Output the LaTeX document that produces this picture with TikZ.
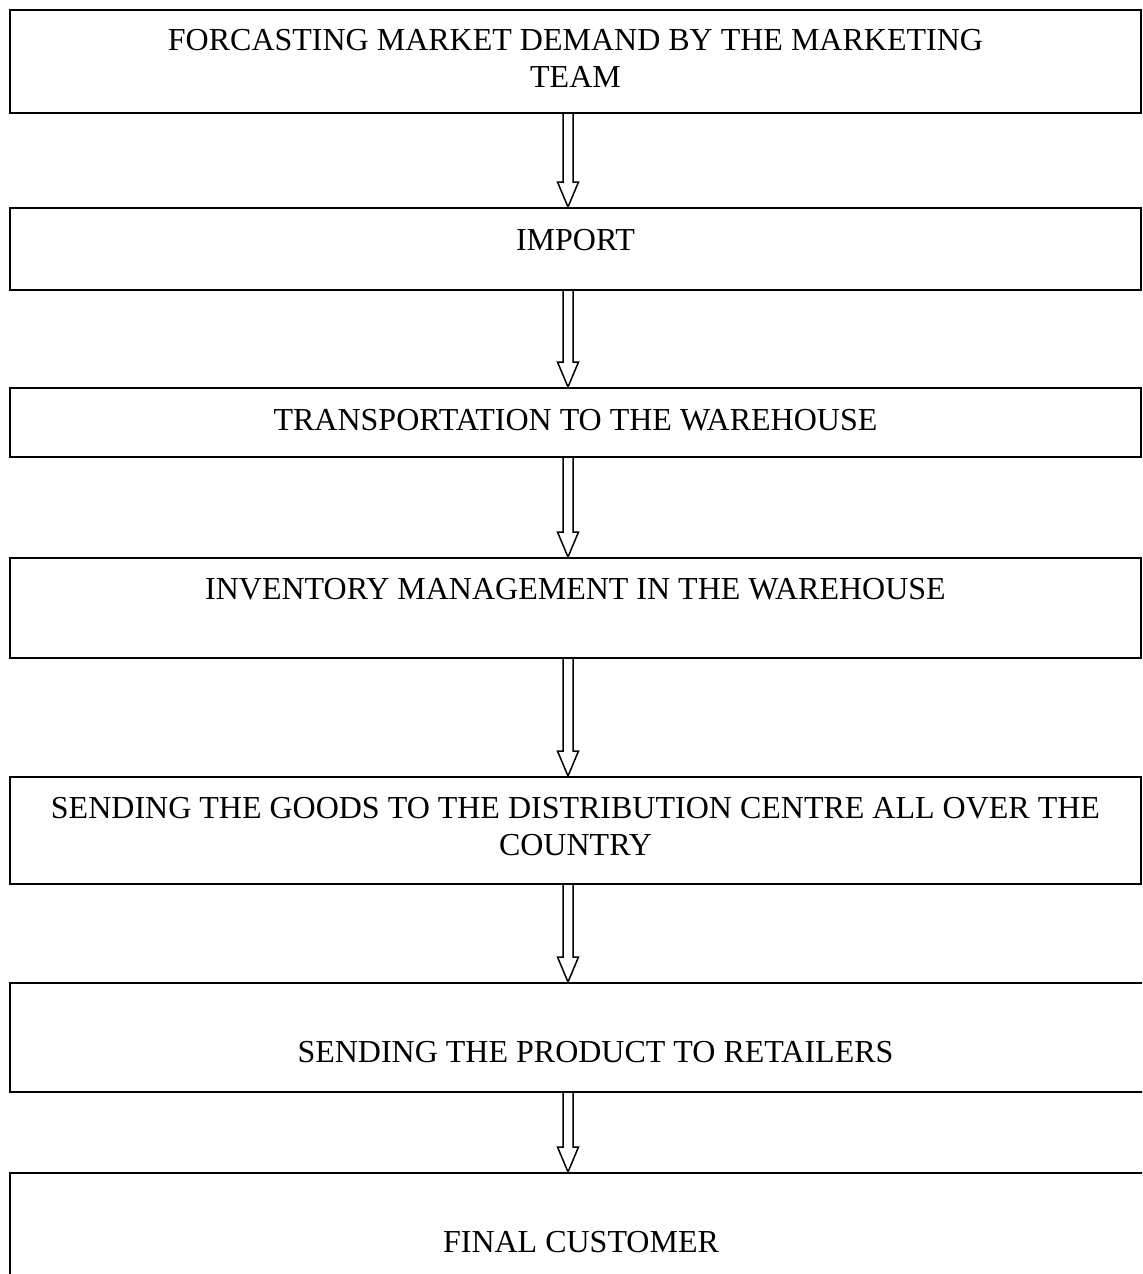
\documentclass[tikz,border=0pt]{standalone}
\usepackage{fontspec}
\setmainfont{Liberation Serif}
\usetikzlibrary{calc}
\tikzstyle{block} = [draw, line width=1pt, rectangle, anchor=north west, inner ysep=0pt, align=center, minimum width=565.5pt, font=\fontsize{16}{18.25}\selectfont]
\tikzstyle{flow} = [draw, line width=0.75pt, fill=white, line join=miter]

% hollow double-line arrow between two boxes
\newcommand{\flowarrow}[2]{%
  \draw [flow] ($(#1.south -| ax)+(-5,0)$) -- ($(#2.north -| ax)+(-5,-25)$) -- ++(-5.5,0) -- (#2.north -| ax) -- ++(10.5,-25) -- ++(-5.5,0) -- ($(#1.south -| ax)+(5,0)$);}

\begin{document}
\begin{tikzpicture}[x=0.5pt, y=-0.5pt]

    \clip (0,0) rectangle (1142,1274);
    \coordinate (ax) at (568,0);

    \node [block, text height=38.5pt, text depth=13pt, name = market] at (9,9) {FORCASTING MARKET DEMAND BY THE MARKETING\\TEAM};
    \node [block, text height=21pt, text depth=20pt, name = import] at (9,207) {IMPORT};
    \node [block, text height=21pt, text depth=13.5pt, name = transport] at (9,387) {TRANSPORTATION TO THE WAREHOUSE};
    \node [block, text height=20.5pt, text depth=29.5pt, name = inventory] at (9,557) {INVENTORY MANAGEMENT IN THE WAREHOUSE};
    \node [block, text height=39pt, text depth=14.5pt, name = distrib] at (9,776) {SENDING THE GOODS TO THE DISTRIBUTION CENTRE ALL OVER THE\\COUNTRY};
    \node [block, minimum width=585.5pt, text height=39.5pt, text depth=15pt, name = retail] at (9,982) {SENDING THE PRODUCT TO RETAILERS};
    \node [block, minimum width=571pt, text height=39.5pt, text depth=40pt, name = customer] at (9,1172) {FINAL CUSTOMER};

    \flowarrow{market}{import}
    \flowarrow{import}{transport}
    \flowarrow{transport}{inventory}
    \flowarrow{inventory}{distrib}
    \flowarrow{distrib}{retail}
    \flowarrow{retail}{customer}

\end{tikzpicture}
\end{document}
